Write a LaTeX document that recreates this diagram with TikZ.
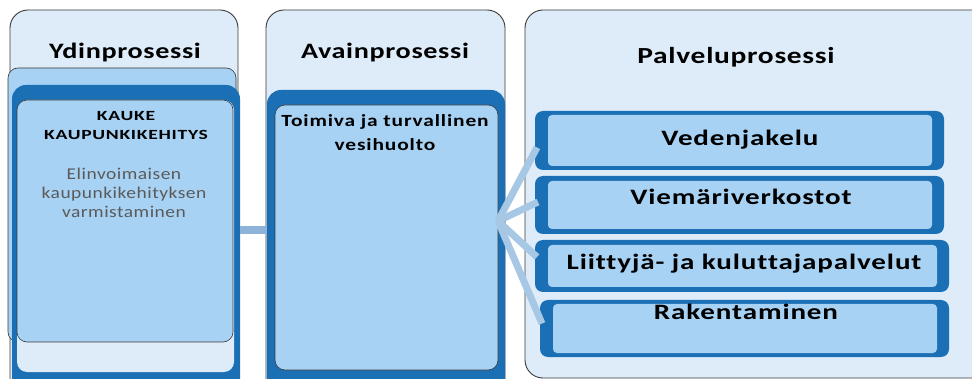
\documentclass[tikz,border=0pt]{standalone}
\usepackage{fontspec}
\setmainfont{Carlito}
\newfontfamily\headfont[FakeStretch=1.28,LetterSpace=3,Ligatures=NoCommon]{Carlito}
\newfontfamily\servfont[FakeStretch=1.32,LetterSpace=4,Ligatures=NoCommon]{Carlito}
\newfontfamily\capsfont[FakeStretch=1.4,LetterSpace=5,Ligatures=NoCommon]{Carlito}
\newfontfamily\subfont[FakeStretch=1.18,LetterSpace=3,Ligatures=NoCommon]{Carlito}
\newfontfamily\titlefont[FakeStretch=1.26,LetterSpace=5,Ligatures=NoCommon]{Carlito}
\usetikzlibrary{calc}
\definecolor{pale}{HTML}{DEEBF8}
\definecolor{lite}{HTML}{A8D2F3}
\definecolor{dark}{HTML}{1B6FB5}
\definecolor{linkc}{HTML}{8DB3D8}
\definecolor{fanc}{HTML}{A7C8E4}
\definecolor{edgec}{HTML}{3A3A3A}
\definecolor{subc}{HTML}{5A5A5A}
\begin{document}
\begin{tikzpicture}[x=1pt,y=-1pt,
  box/.style={anchor=north west,inner sep=0pt,outer sep=0pt},
  panel/.style={box,draw=edgec,line width=0.9pt,fill=pale,rounded corners=18pt},
  litebox/.style={box,draw=edgec,line width=0.6pt,fill=lite,rounded corners=10pt},
  darkbox/.style={box,fill=dark,rounded corners=14pt},
  sdark/.style={box,fill=dark,rounded corners=8pt},
  slite/.style={box,fill=lite,rounded corners=4pt},
  head/.style={font=\headfont\bfseries\fontsize{22}{24}\selectfont,text=black},
  stext/.style={font=\servfont\bfseries\fontsize{22}{23}\selectfont,text=black},
  ktext/.style={font=\capsfont\bfseries\fontsize{14}{19}\selectfont,align=center,text=black},
  gtext/.style={font=\subfont\fontsize{16.5}{19}\selectfont,align=center,text=subc},
  ttext/.style={font=\titlefont\bfseries\fontsize{17}{24}\selectfont,align=center,text=black},
  linkline/.style={draw=linkc,line width=8pt},
  fanline/.style={draw=fanc,line width=7pt}]
\useasboundingbox (0,0) rectangle (972,379);
\clip (0,0) rectangle (972,379);
% panels
\node[panel,minimum width=228pt,minimum height=400pt] (p1) at (10,10) {};
\node[panel,minimum width=239pt,minimum height=400pt] (p2) at (266,10) {};
\node[panel,minimum width=470pt,minimum height=368pt] (p3) at (525,10) {};
\node[head] (h1) at (125,53) {Ydinprosessi};
\node[head] (h2) at (385,53) {Avainprosessi};
\node[head,font=\headfont\bfseries\fontsize{23}{24}\selectfont] (h3) at (736,57) {Palveluprosessi};
% panel 1 content
\node[litebox,minimum width=228pt,minimum height=274pt] (k0) at (8,68) {};
\node[darkbox,minimum width=228pt,minimum height=320pt] (k1) at (12,85) {};
\node[box,fill=pale,rounded corners=10pt,minimum width=217pt,minimum height=272pt] (k2) at (17,100) {};
\node[litebox,minimum width=216pt,minimum height=242pt] (k3) at (17,100) {};
\node[ktext] (kt) at (126,126) {KAUKE\\KAUPUNKIKEHITYS};
\node[gtext] (ks) at (124,193) {Elinvoimaisen\\kaupunkikehityksen\\varmistaminen};
% panel 2 content
\node[darkbox,minimum width=238pt,minimum height=320pt] (a1) at (267,90) {};
\node[litebox,minimum width=223pt,minimum height=265pt] (a2) at (275,105) {};
\node[ttext] (at) at (385,133) {Toimiva ja turvallinen\\vesihuolto};
% link between panel 1 and 2
\draw[linkline] (k1.east |- 0,230) -- (a1.west |- 0,230);
% service boxes
\node[sdark,minimum width=409pt,minimum height=59pt] (d1) at (535,111) {};
\node[sdark,minimum width=409pt,minimum height=58pt] (d2) at (535,176) {};
\node[sdark,minimum width=414pt,minimum height=52pt] (d3) at (535,240) {};
\node[sdark,minimum width=409pt,minimum height=57pt] (d4) at (540,300) {};
\coordinate (hub) at (498,221);
\draw[fanline] (hub) -- ($(d1.west)+(2,7)$);
\draw[fanline] (hub) -- ($(d2.west)+(3,-3)$);
\draw[fanline] (hub) -- ($(d3.west)+(2,-9)$);
\draw[fanline] (hub) -- ($(d4.west)+(2,-5)$);
\node[slite,minimum width=384pt,minimum height=51pt] (s1) at (548,115) {};
\node[slite,minimum width=384pt,minimum height=48pt] (s2) at (548,181) {};
\node[slite,minimum width=389pt,minimum height=42pt] (s3) at (548,245) {};
\node[slite,minimum width=384pt,minimum height=49pt] (s4) at (553,304) {};
\node[stext] (t1) at (740,140) {Vedenjakelu};
\node[stext] (t2) at (741,197) {Viemäriverkostot};
\node[stext] (t3) at (744,264) {Liittyjä- ja kuluttajapalvelut};
\node[stext] (t4) at (746,312) {Rakentaminen};
\end{tikzpicture}
\end{document}
